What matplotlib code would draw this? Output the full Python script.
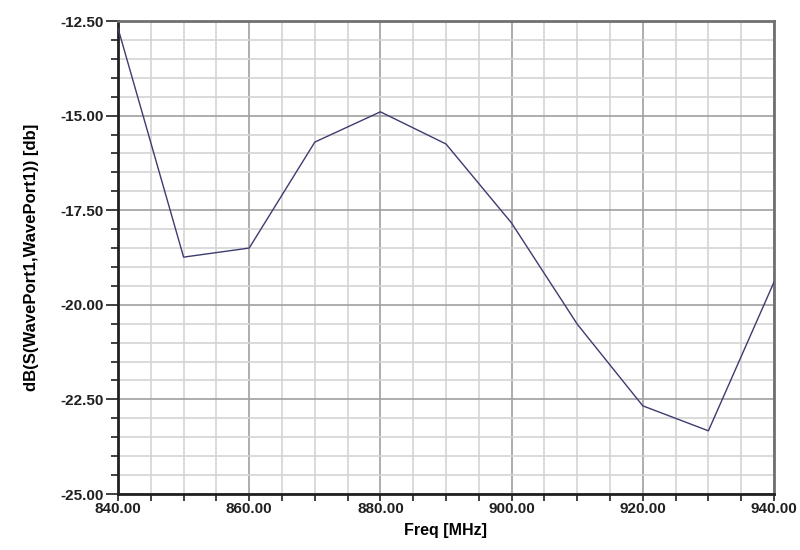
import numpy as np
import matplotlib.pyplot as plt
from matplotlib.ticker import MultipleLocator, FormatStrFormatter

plt.rcParams['font.family'] = ['Liberation Sans', 'DejaVu Sans']

freq = [840, 850, 860, 870, 880, 890, 900, 910, 920, 930, 940]
s11_db = [-12.69, -18.74, -18.50, -15.70, -14.90, -15.75, -17.84, -20.51, -22.67, -23.33, -19.40]

fig = plt.figure(figsize=(8, 5.5), dpi=100)
ax = fig.add_axes([0.1475, 0.1018, 0.82, 0.86])

ax.plot(freq, s11_db, color='#3c3c70', lw=1.0, zorder=3)

ax.set_xlim(840, 940)
ax.set_ylim(-25, -12.5)
ax.xaxis.set_major_locator(MultipleLocator(20))
ax.xaxis.set_minor_locator(MultipleLocator(5))
ax.yaxis.set_major_locator(MultipleLocator(2.5))
ax.yaxis.set_minor_locator(MultipleLocator(0.5))
ax.xaxis.set_major_formatter(FormatStrFormatter('%.2f'))
ax.yaxis.set_major_formatter(FormatStrFormatter('%.2f'))

ax.grid(which='major', color='#a0a0a0', lw=1.2)
ax.grid(which='minor', color='#d4d4d4', lw=1.2)
ax.set_axisbelow(True)

ax.tick_params(which='both', direction='out', colors='#202020', width=1.2,
               labelsize=11, pad=1)
ax.tick_params(which='major', length=9)
ax.tick_params(which='minor', length=5)
ax.tick_params(axis='x', which='both', length=5)
for lab in ax.get_xticklabels() + ax.get_yticklabels():
    lab.set_fontweight('bold')

for side in ['left', 'bottom']:
    ax.spines[side].set_color('#202020')
    ax.spines[side].set_linewidth(2)
for side in ['top', 'right']:
    ax.spines[side].set_color('#707070')
    ax.spines[side].set_linewidth(2)

ax.set_xlabel('Freq [MHz]', fontsize=11.5, fontweight='bold', labelpad=5)
ax.set_ylabel('dB(S(WavePort1,WavePort1)) [db]', fontsize=12, fontweight='bold', labelpad=16)

fig.savefig('out.png', dpi=100)
